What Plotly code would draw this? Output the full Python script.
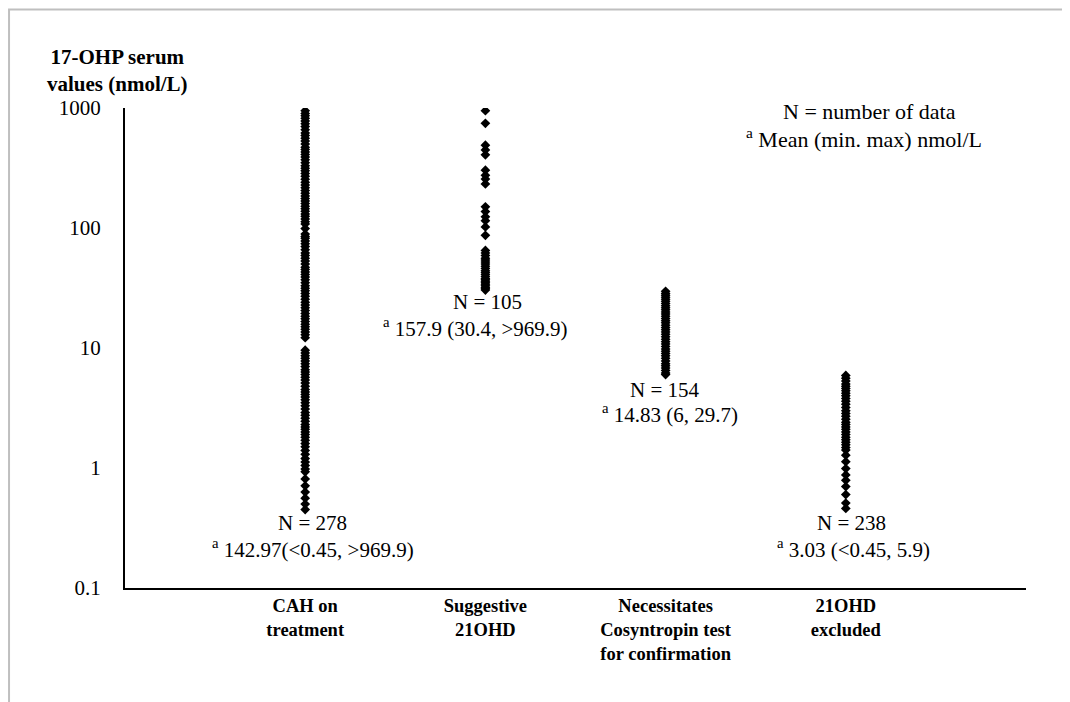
import plotly.graph_objects as go

categories = ["CAH on<br>treatment", "Suggestive<br>21OHD",
              "Necessitates<br>Cosyntropin test<br>for confirmation", "21OHD<br>excluded"]

cah_on_treatment = [950, 900, 860, 820, 780, 740, 700, 660, 620, 590, 560, 530, 500, 470, 450,
                    430, 410, 390, 370, 350, 330, 315, 300, 285, 270, 255, 240, 228, 216, 205,
                    195, 185, 176, 168, 160, 152, 145, 138, 131, 125, 119, 113, 108, 99,
                    89, 85, 82, 78, 74, 70, 66, 62, 59, 56, 53, 50, 47, 45, 43, 41, 39, 37,
                    35, 33, 31.5, 30, 28.5, 27, 25.5, 24, 22.8, 21.6, 20.5, 19.4, 18.4, 17.5,
                    16.6, 15.8, 15, 14.3, 13.6, 12.9, 12.2,
                    9.6, 9.1, 8.6, 8.2, 7.8, 7.4, 7, 6.6, 6.3, 6, 5.7, 5.4, 5.1, 4.8, 4.5, 4.3,
                    4.1, 3.9, 3.7, 3.5, 3.3, 3.1, 2.9, 2.75, 2.6, 2.45, 2.3, 2.2, 2.1, 2.0, 1.9,
                    1.8, 1.7, 1.6, 1.5, 1.4, 1.3, 1.2, 1.12, 1.05, 0.98, 0.93,
                    0.81, 0.71, 0.63, 0.56, 0.50, 0.45]

suggestive_21ohd = [950, 745, 490, 447, 407, 303, 275, 256, 233, 150, 137, 124, 115, 102, 87,
                    65, 62, 59, 56, 54, 52, 50, 48, 46, 44, 42.5, 41, 39.5, 38, 37, 36, 35, 34,
                    33, 32, 31.2, 30.4]

necessitates_test = [29.7, 28.5, 27.5, 26.5, 25.5, 24.5, 23.5, 22.5, 21.6, 20.8, 20, 19.2, 18.4,
                     17.6, 16.9, 16.2, 15.5, 14.8, 14.2, 13.6, 13, 12.4, 11.8, 11.3, 10.8, 10.3,
                     9.8, 9.4, 9, 8.6, 8.2, 7.8, 7.4, 7.1, 6.8, 6.5, 6.2, 6.0]

ohd_excluded = [5.9, 5.6, 5.3, 5.0, 4.8, 4.6, 4.4, 4.2, 4.0, 3.8, 3.6, 3.4, 3.2, 3.0, 2.85, 2.7,
                2.55, 2.4, 2.3, 2.2, 2.1, 2.0, 1.9, 1.8, 1.72, 1.64, 1.56, 1.48, 1.41, 1.28,
                1.13, 0.99, 0.875, 0.79, 0.70, 0.60, 0.51, 0.46]

n_labels = ["N = 278", "N = 105", "N = 154", "N = 238"]
stat_labels = ["<sup>a</sup> 142.97(<0.45, >969.9)", "<sup>a</sup> 157.9 (30.4, >969.9)",
               "<sup>a</sup> 14.83 (6, 29.7)", "<sup>a</sup> 3.03 (<0.45, 5.9)"]

y_tick_vals = [0.1, 1, 10, 100, 1000]
y_tick_text = ["0.1", "1", "10", "100", "1000"]

series = [cah_on_treatment, suggestive_21ohd, necessitates_test, ohd_excluded]

FONT = "Liberation Serif"
TXT = 21

fig = go.Figure()
for i, vals in enumerate(series):
    fig.add_trace(go.Scatter(
        x=[i + 1] * len(vals), y=vals, mode="markers",
        marker=dict(symbol="diamond", size=7.5, color="black", line=dict(width=0)),
        showlegend=False, hoverinfo="y"))

# annotation positions (x in category units, y in log10 units)
n_pos = [(1.038, -0.458), (2.009, 1.383), (2.997, 0.65), (4.034, -0.458)]
s_pos = [(1.043, -0.667), (1.947, 1.175), (3.025, 0.458), (4.04, -0.667)]
for (x, y), t in zip(n_pos, n_labels):
    fig.add_annotation(x=x, y=y, xref="x", yref="y", text=t, showarrow=False,
                       font=dict(family=FONT, size=TXT, color="black"))
for (x, y), t in zip(s_pos, stat_labels):
    fig.add_annotation(x=x, y=y, xref="x", yref="y", text=t, showarrow=False,
                       font=dict(family=FONT, size=TXT, color="black"))

fig.add_annotation(x=4.129, y=2.967, xref="x", yref="y", text="N = number of data",
                   showarrow=False, font=dict(family=FONT, size=22, color="black"))
fig.add_annotation(x=4.10, y=2.75, xref="x", yref="y", text="<sup>a</sup> Mean (min. max) nmol/L",
                   showarrow=False, font=dict(family=FONT, size=22, color="black"))

fig.add_annotation(x=-0.0078, y=1.079, xref="paper", yref="paper",
                   text="<b>17-OHP serum<br>values (nmol/L)</b>", showarrow=False,
                   xanchor="center", yanchor="middle",
                   font=dict(family=FONT, size=21, color="black"))

fig.add_shape(type="rect", xref="paper", yref="paper", x0=-0.1287, x1=1.0455, y0=-0.26, y1=1.2052,
              line=dict(color="#bfbfbf", width=2), fillcolor="rgba(0,0,0,0)", layer="below")

fig.update_xaxes(range=[0, 5], tickvals=[1, 2, 3, 4],
                 ticktext=["<b>" + c + "</b>" for c in categories],
                 showgrid=False, zeroline=False, showline=True, linecolor="black", linewidth=2,
                 ticks="", tickfont=dict(family=FONT, size=18.5, color="black"))
fig.update_yaxes(type="log", range=[-1, 3], tickvals=y_tick_vals, ticktext=y_tick_text,
                 showgrid=False, zeroline=False, showline=True, linecolor="black", linewidth=2,
                 ticks="", ticklabelstandoff=18,
                 tickfont=dict(family=FONT, size=21, color="black"))

fig.update_layout(width=1062, height=694, margin=dict(l=117, r=44, t=100, b=114),
                  paper_bgcolor="white", plot_bgcolor="white", font=dict(family=FONT))

fig.write_html("out.html")
